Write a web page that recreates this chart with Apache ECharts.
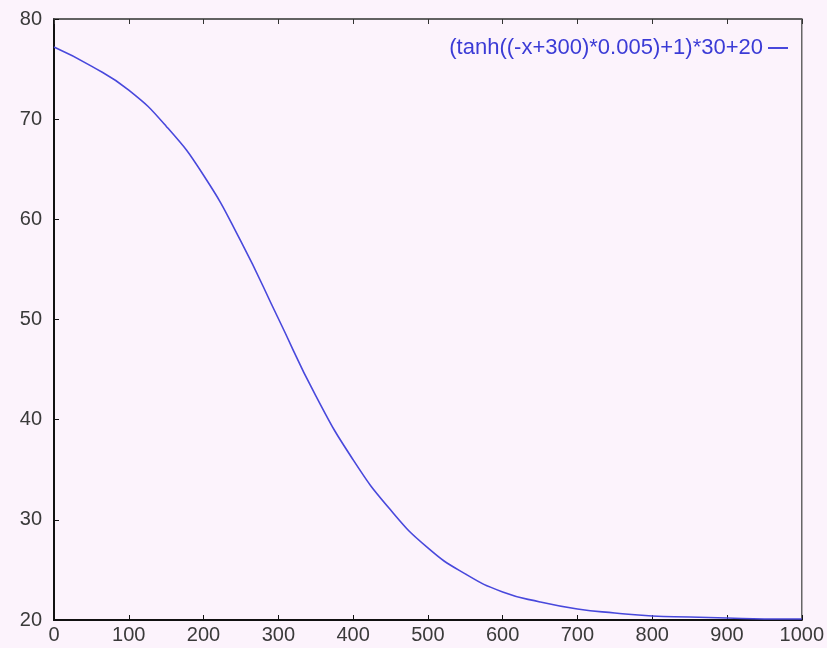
<!DOCTYPE html>
<html>
<head>
<meta charset="utf-8">
<script src="https://cdn.jsdelivr.net/npm/echarts@6/dist/echarts.min.js"></script>
<style>
html,body{margin:0;padding:0;background:#fcf3fc;}
#chart{width:827px;height:648px;}
</style>
</head>
<body>
<div id="chart"></div>
<script>
const seriesName = '(tanh((-x+300)*0.005)+1)*30+20';
const xValues = [0,50,100,150,200,250,300,350,400,450,500,550,600,650,700,750,800,850,900,950,1000];
const yValues = [77.2,75.3,72.9,69.3,64.4,57.8,50.1,42.4,36.0,31.0,27.2,24.6,22.8,21.8,21.1,20.7,20.4,20.3,20.2,20.1,20.1];
const xTicks = [0,100,200,300,400,500,600,700,800,900,1000];
const yTicks = [20,30,40,50,60,70,80];

const chart = echarts.init(document.getElementById('chart'), null, {renderer:'canvas'});
const labelFont = {fontFamily:'Liberation Sans, Arial, sans-serif', fontSize:20, color:'#3a3a3a'};
chart.setOption({
  backgroundColor:'#fcf3fc',
  animation:false,
  grid:{left:54,right:22,top:19,bottom:28,show:true,borderColor:'#666',borderWidth:1.5,backgroundColor:'transparent'},
  legend:{
    data:[seriesName],
    right:34, top:32,
    align:'right',
    icon:'path://M0,0 L20,0 L20,2 L0,2 Z',
    itemWidth:20, itemHeight:2, itemGap:6,
    textStyle:{fontFamily:'Liberation Sans, Arial, sans-serif', fontSize:22, color:'#3b3bd6'}
  },
  xAxis:[{
    type:'value', min:0, max:1000, interval:100,
    axisLine:{show:true,onZero:false,lineStyle:{color:'#111',width:2}},
    axisTick:{show:true,inside:true,length:5,lineStyle:{color:'#111'}},
    axisLabel:Object.assign({margin:5, formatter:v=>xTicks.includes(v)?String(v):''},labelFont),
    splitLine:{show:false}
  },{
    type:'value', position:'top', min:0, max:1000, interval:100,
    axisLine:{show:true,lineStyle:{color:'#555',width:1.5}},
    axisTick:{show:true,inside:true,length:5,lineStyle:{color:'#333'}},
    axisLabel:{show:false}, splitLine:{show:false}
  }],
  yAxis:{
    type:'value', min:20, max:80, interval:10,
    axisLine:{show:true,onZero:false,lineStyle:{color:'#111',width:2}},
    axisTick:{show:true,inside:true,length:5,lineStyle:{color:'#111'}},
    axisLabel:Object.assign({margin:12, formatter:v=>yTicks.includes(v)?String(v):''},labelFont),
    splitLine:{show:false}
  },
  series:[{
    name:seriesName, type:'line', smooth:true, showSymbol:false,
    xAxisIndex:0,
    lineStyle:{color:'#4848dc',width:1.6},
    itemStyle:{color:'#4848dc'},
    data:xValues.map((x,i)=>[x,yValues[i]])
  }]
});
</script>
</body>
</html>
